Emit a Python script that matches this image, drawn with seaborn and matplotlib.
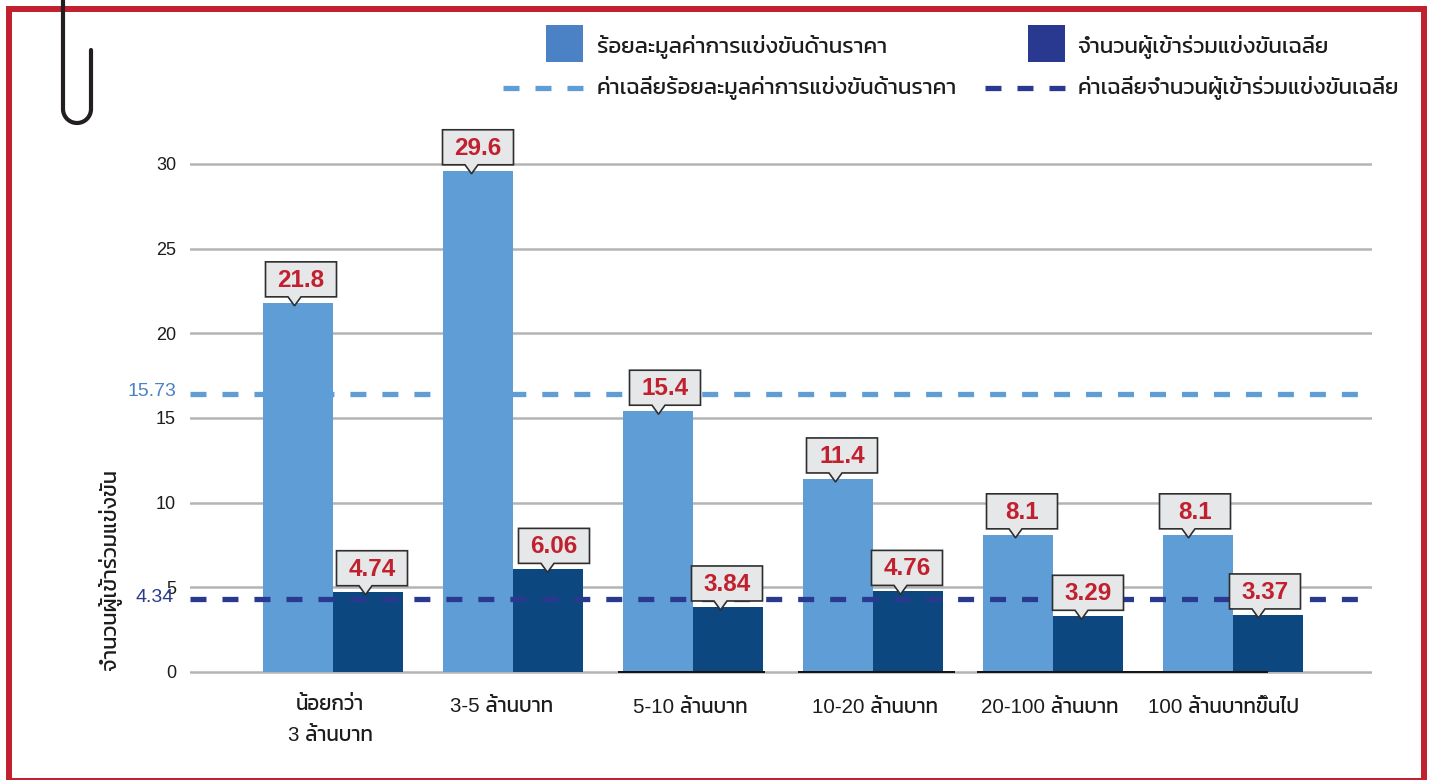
# -*- coding: UTF-8 -*-
import numpy as np
import pandas as pd
import seaborn as sns
import matplotlib
matplotlib.use('Agg')
import matplotlib.pyplot as plt
from matplotlib.lines import Line2D
from matplotlib.patches import Polygon, Rectangle
from matplotlib.transforms import IdentityTransform, ScaledTranslation

# data
size_classes = ['น้อยกว่า\n3 ล้านบาท', '3-5 ล้านบาท', '5-10 ล้านบาท', '10-20 ล้านบาท', '20-100 ล้านบาท', '100 ล้านบาทขึ้นไป']
price_share = [21.8, 29.6, 15.4, 11.4, 8.1, 8.1]
bidders = [4.74, 6.06, 3.84, 4.76, 3.29, 3.37]
price_label = 'ร้อยละมูลค่าการแข่งขันด้านราคา'
bidders_label = 'จำนวนผู้เข้าร่วมแข่งขันเฉลี่ย'
avg_price_label = 'ค่าเฉลี่ยร้อยละมูลค่าการแข่งขันด้านราคา'
avg_bidders_label = 'ค่าเฉลี่ยจำนวนผู้เข้าร่วมแข่งขันเฉลี่ย'
y_title = 'จำนวนผู้เข้าร่วมแข่งขัน'
y_ticks = [0, 5, 10, 15, 20, 25, 30]
# the printed average and where the dashed line really sits on the axis differ
avg_price_text = '15.73'
avg_price_line = 16.42
avg_bidders_text = '4.34'
avg_bidders_line = 4.31

# colours
light = '#5f9dd6'
dark = '#0d477f'
navy = '#2a3990'
legend_blue = '#4a82c5'
red = '#c1202e'
ink = '#1c1c1c'

W, H = 1432, 780
sns.set_theme(style='white')
plt.rcParams['font.family'] = ['Liberation Sans', 'Kanit']

df = pd.DataFrame({
    'size_class': size_classes * 2,
    'value': price_share + bidders,
    'series': ['price'] * 6 + ['bidders'] * 6,
})

fig = plt.figure(figsize=(W / 100, H / 100), dpi=100)
# axes placed by pixels: 0 sits at y=672, 30 at y=164
y_unit = (672 - 164) / 30
y_lo, y_hi = -0.5, 32
left, right = 190, 1372
ax = fig.add_axes([left / W, (H - 672 - (0 - y_lo) * y_unit) / H,
                   (right - left) / W, (y_hi - y_lo) * y_unit / H])

sns.barplot(data=df, x='size_class', y='value', hue='series', hue_order=['price', 'bidders'],
            palette=[light, dark], width=140 / 180, gap=0, saturation=1, legend=False,
            linewidth=0, zorder=2, ax=ax)

ax.set_ylim(y_lo, y_hi)
ax.set_xlim((left - 333) / 180, (right - 333) / 180)
sns.despine(ax=ax, left=True, bottom=True)
ax.set_xlabel('')
ax.set_ylabel('')
ax.set_yticks(y_ticks)
ax.yaxis.grid(True, color='#b4b4b4', lw=1.8, zorder=1)
ax.xaxis.grid(False)
ax.set_axisbelow(True)
ax.tick_params(axis='y', length=0, pad=10, labelsize=13, labelcolor=ink)
ax.tick_params(axis='x', length=0, pad=10, labelsize=14.8, labelcolor=ink)

# tick labels are not quite centred under the groups in the original
label_dx = [-3, -11, -3, 2, -3, -9]
label_dy = [-1, -3, -4, -4, -4, -4]
for lab, dx, dy in zip(ax.get_xticklabels(), label_dx, label_dy):
    lab.set_linespacing(1.8)
    lab.set_transform(lab.get_transform() + ScaledTranslation(dx / 100, dy / 100, fig.dpi_scale_trans))

# dark stretches of the baseline under the later groups
for x0, x1 in [(618, 765), (798, 955), (977, 1268)]:
    ax.plot([x0, x1], [H - 672, H - 672], transform=IdentityTransform(), color='#111111', lw=1.4,
            solid_capstyle='butt', zorder=3, clip_on=False)

# average lines
ax.axhline(avg_price_line, xmin=0, xmax=(1360 - left) / (right - left), color=light, lw=3.8,
           dashes=(3.03, 3.03), dash_capstyle='butt', zorder=3)
ax.axhline(avg_bidders_line, xmin=0, xmax=(1360 - left) / (right - left), color=navy, lw=3.8,
           dashes=(3.03, 3.03), dash_capstyle='butt', zorder=3)
blend = ax.get_yaxis_transform()
ax.text(-0.0115, avg_price_line + 0.16, avg_price_text, transform=blend, ha='right', va='center',
        fontsize=14, color=legend_blue)
ax.text(-0.0135, avg_bidders_line + 0.1, avg_bidders_text, transform=blend, ha='right', va='center',
        fontsize=14, color=navy, zorder=6)

# callouts on the bars
box_shift = [[3, 0, 7, 4, 4, -3], [4, 6, -1, -1, 0, -3]]
box_w, box_h = 71, 35
for container, shifts, values in zip(ax.containers, box_shift, [price_share, bidders]):
    for bar, shift, value in zip(container, shifts, values):
        cx, top = ax.transData.transform((bar.get_x() + bar.get_width() / 2, bar.get_height()))
        cx = cx + shift
        y0 = top + 6
        y1 = y0 + box_h
        shape = [(cx - box_w / 2, y0), (cx - 13, y0), (cx - 6.5, top - 3), (cx, y0),
                 (cx + box_w / 2, y0), (cx + box_w / 2, y1), (cx - box_w / 2, y1)]
        ax.add_patch(Polygon(shape, closed=True, transform=IdentityTransform(), facecolor='#e6e7e8',
                             edgecolor='#2e2e2e', lw=1.2, clip_on=False, zorder=4))
        ax.text(cx, (y0 + y1) / 2 - 1, str(value), transform=IdentityTransform(), ha='center', va='center',
                fontsize=17.5, color=red, fontweight='bold', zorder=5)

# y title
fig.text(110 / W, 1 - 670 / H, y_title, rotation=90, ha='center', va='bottom', fontsize=15.8,
         color=ink)


# legend is placed by hand to follow the original
def fx(x):
    return x / W


def fy(y):
    return 1 - y / H


for x0, col in [(546, legend_blue), (1028, navy)]:
    fig.add_artist(Rectangle((fx(x0), fy(62)), 37 / W, 37 / H, transform=fig.transFigure, facecolor=col, edgecolor='none'))
for x0, x1, col in [(503, 583, light), (985, 1065, navy)]:
    fig.add_artist(Line2D([fx(x0), fx(x1)], [fy(88), fy(88)], transform=fig.transFigure, color=col, lw=3.8,
                          dashes=(3.03, 3.03), dash_capstyle='butt'))
for x0, y0, txt in [(597, 47, price_label), (1078, 47, bidders_label),
                    (597, 88, avg_price_label), (1078, 88, avg_bidders_label)]:
    fig.text(fx(x0), fy(y0), txt, ha='left', va='center', fontsize=16.1, color=ink)

# red frame
fig.add_artist(Rectangle((fx(8.5), fy(781)), 1415 / W, 772 / H, transform=fig.transFigure, facecolor='none',
                         edgecolor=red, lw=4.3, zorder=10))

# paper clip
t = np.linspace(np.pi, 2 * np.pi, 40)
clip_x = np.r_[63, 63 + 14 + 14 * np.cos(t), 91]
clip_y = np.r_[0, 109 - 14 * np.sin(t), 50]
fig.add_artist(Line2D(fx(clip_x), fy(clip_y), transform=fig.transFigure, color='#231f20', lw=3,
                      solid_capstyle='round', zorder=11))

fig.savefig('out.png', dpi=100)
